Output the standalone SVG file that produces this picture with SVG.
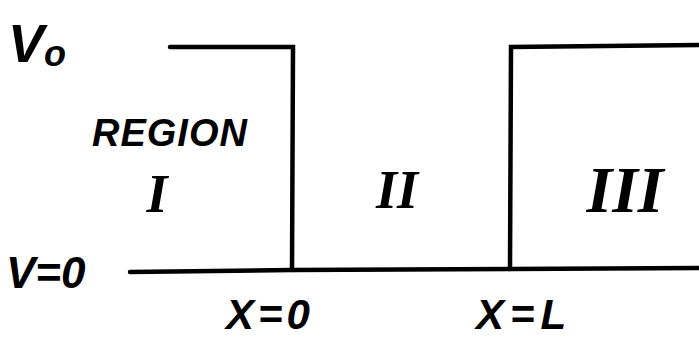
<svg xmlns="http://www.w3.org/2000/svg" width="699" height="340" viewBox="0 0 699 340">
<style>
.ln{stroke:#000;stroke-width:4.5;fill:none;stroke-linecap:round}
.t{font-family:"Liberation Sans",Arial,sans-serif;font-weight:bold;font-style:italic;fill:#000}
.r{font-family:"Liberation Serif","Times New Roman",serif;font-weight:bold;font-style:italic;fill:#000;text-anchor:middle}
</style>
<rect width="699" height="340" fill="#fff"/>
<g id="potential">
<path class="ln" d="M170 47 L293 47 L292 270"/>
<path class="ln" d="M130 272 L292 270 L510 269 L699 268"/>
<path class="ln" d="M510 269 L511 47 L699 45"/>
</g>
<g id="labels">
<text class="t" x="8" y="62" font-size="54">V<tspan font-size="36" dy="4">o</tspan></text>
<text class="t" x="92" y="146" font-size="38" letter-spacing="1">REGION</text>
<text class="r" x="157" y="212" font-size="54">I</text>
<text class="r" x="397" y="208" font-size="54">II</text>
<text class="r" x="625" y="212" font-size="66">III</text>
<text class="t" x="6" y="288" font-size="44">V=0</text>
<text class="t" x="226" y="329" font-size="42" letter-spacing="4">X=0</text>
<text class="t" x="476" y="329" font-size="42" letter-spacing="6">X=L</text>
</g>
</svg>
